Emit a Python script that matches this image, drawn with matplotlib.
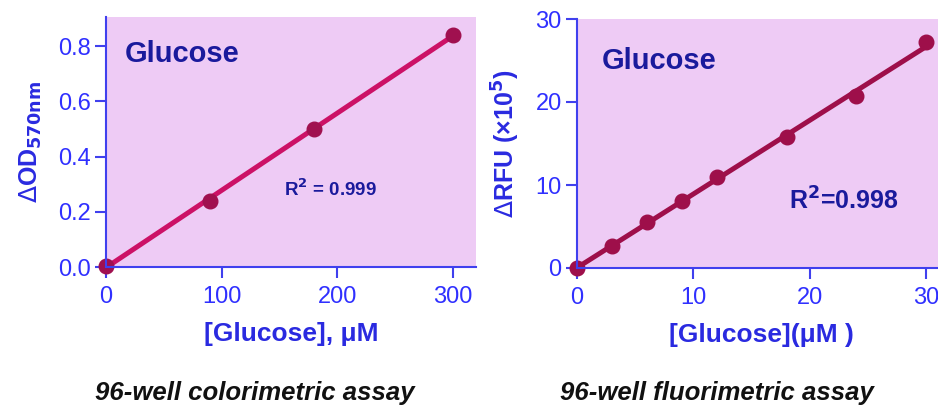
import numpy as np
import matplotlib
matplotlib.use("Agg")
import matplotlib.pyplot as plt

plt.rcParams['font.family'] = ['Liberation Sans', 'DejaVu Sans']

# colorimetric assay data
conc_od = [0, 90, 180, 300]
od_570 = [0.005, 0.24, 0.50, 0.84]
r2_od = "0.999"

# fluorimetric assay data
conc_rfu = [0, 3, 6, 9, 12, 18, 24, 30]
rfu = [0.0, 2.6, 5.5, 8.1, 11.0, 15.8, 20.7, 27.2]
r2_rfu = "0.998"

BG = "#eecbf5"
AXC = "#4040ee"
TICKC = "#3030ff"
LABC = "#2a2ae0"
TXTC = "#1a1a9c"

fig = plt.figure(figsize=(9.38, 4.09), dpi=100)
W, H = 938.0, 409.0


def style_axes(ax):
    ax.set_facecolor(BG)
    for s in ["top", "right"]:
        ax.spines[s].set_visible(False)
    for s in ["left", "bottom"]:
        ax.spines[s].set_color(AXC)
        ax.spines[s].set_linewidth(1.5)
        ax.spines[s].set_zorder(5)
    ax.tick_params(colors=AXC, labelcolor=TICKC, labelsize=17, width=1.5,
                   length=8, direction="out")
    ax.tick_params(axis="x", pad=6)
    ax.tick_params(axis="y", pad=3)


# left panel
ax1 = fig.add_axes([106 / W, 1 - 267 / H, (476 - 106) / W, (267 - 17) / H])
style_axes(ax1)
ax1.set_xlim(0, 320)
ax1.set_ylim(0, 0.905)
ax1.set_xticks([0, 100, 200, 300])
ax1.set_yticks([0.0, 0.2, 0.4, 0.6, 0.8])
ax1.set_yticklabels(["0.0", "0.2", "0.4", "0.6", "0.8"])
fit1 = np.polyfit(conc_od, od_570, 1)
xs1 = np.array([0, 300])
ax1.plot(xs1, np.polyval(fit1, xs1), color="#cc1166", lw=3.6, zorder=3,
         solid_capstyle="round", clip_on=False)
ax1.plot(conc_od, od_570, "o", color="#a0104f", ms=10.5, zorder=4, clip_on=False)
ax1.text(0.05, 0.85, "Glucose", transform=ax1.transAxes, fontsize=21,
         fontweight="bold", color=TXTC, va="center")
ax1.text(0.48, 0.31, "R$^{\\mathbf{2}}$ = " + r2_od, transform=ax1.transAxes,
         fontsize=13.5, fontweight="bold", color=TXTC, va="center")
ax1.set_xlabel("[Glucose], \u03bcM", fontsize=19, fontweight="bold", color=LABC,
               labelpad=10)
ax1.set_ylabel("$\\Delta$OD$_{\\mathbf{570nm}}$", fontsize=18, fontweight="bold",
               color=LABC, labelpad=10)

# right panel
ax2 = fig.add_axes([577 / W, 1 - 268 / H, (945 - 577) / W, (268 - 19) / H])
style_axes(ax2)
ax2.set_xlim(0, 31.6)
ax2.set_ylim(0, 30)
ax2.set_xticks([0, 10, 20, 30])
ax2.set_yticks([0, 10, 20, 30])
fit2 = np.polyfit(conc_rfu, rfu, 1)
xs2 = np.array([0, 30])
ax2.plot(xs2, np.polyval(fit2, xs2), color="#9e0f4a", lw=3.6, zorder=3,
         solid_capstyle="round", clip_on=False)
ax2.plot(conc_rfu, rfu, "o", color="#9e0f4a", ms=10.5, zorder=4, clip_on=False)
ax2.text(0.068, 0.83, "Glucose", transform=ax2.transAxes, fontsize=21,
         fontweight="bold", color=TXTC, va="center")
ax2.text(0.575, 0.27, "R$^{\\mathbf{2}}$=" + r2_rfu, transform=ax2.transAxes,
         fontsize=18, fontweight="bold", color=TXTC, va="center")
ax2.set_xlabel("[Glucose](\u03bcM )", fontsize=19, fontweight="bold", color=LABC,
               labelpad=10)
ax2.set_ylabel("$\\Delta$RFU (\u00d710$^{\\mathbf{5}}$)", fontsize=18,
               fontweight="bold", color=LABC, labelpad=10)

# captions
fig.text(255 / W, 1 - 393 / H, "96-well colorimetric assay", fontsize=18.5,
         fontweight="bold", fontstyle="italic", color="#111111",
         ha="center", va="center")
fig.text(717 / W, 1 - 393 / H, "96-well fluorimetric assay", fontsize=18.5,
         fontweight="bold", fontstyle="italic", color="#111111",
         ha="center", va="center")

fig.savefig("out.png", dpi=100, facecolor="white")
